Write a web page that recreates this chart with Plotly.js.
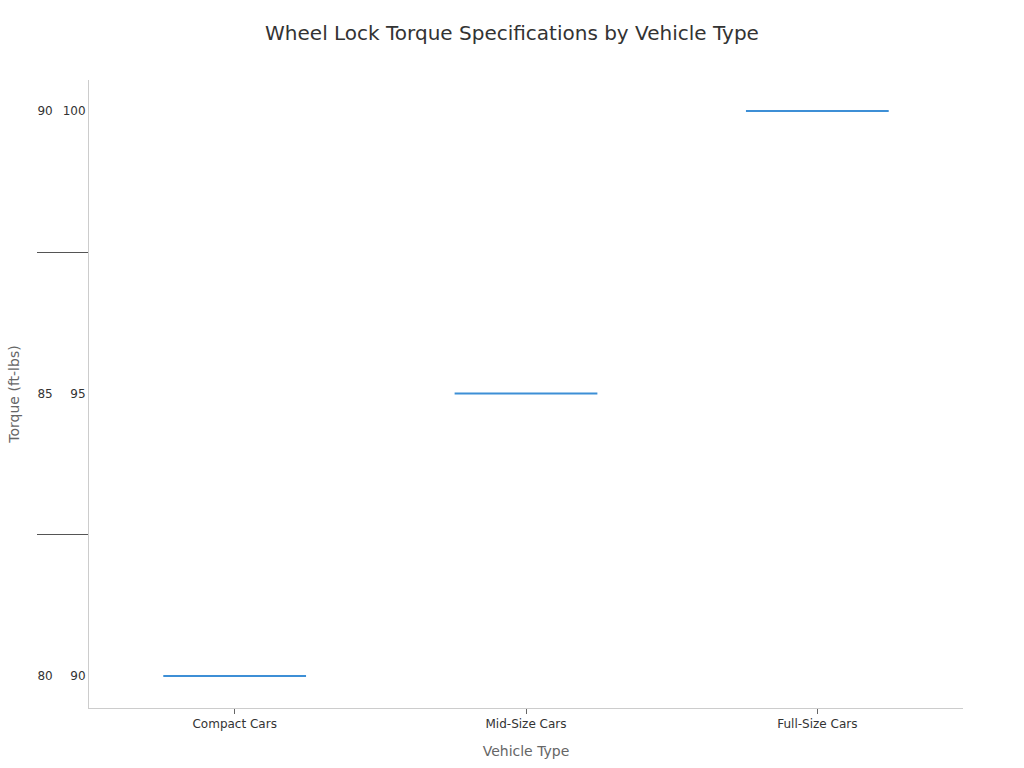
<!DOCTYPE html>
<html>
<head>
<meta charset="utf-8">
<script src="https://cdn.plot.ly/plotly-3.0.1.min.js"></script>
<style>
  html, body { margin: 0; padding: 0; background: #fff; }
  #chart { width: 1024px; height: 768px; }
</style>
</head>
<body>
<div id="chart"></div>
<script>
// vehicle categories and the torque values (two-level labels on the y axis)
var vehicleTypes = ['Compact Cars', 'Mid-Size Cars', 'Full-Size Cars'];
var torqueLow = ['80', '85', '90'];
var torqueHigh = ['90', '95', '100'];

var trace = {
  type: 'box',
  x: vehicleTypes,
  y: [torqueLow, torqueHigh],
  boxpoints: false,
  fillcolor: 'rgba(0,0,0,0)',
  line: {color: '#3d8fd6', width: 2},
  hoverinfo: 'skip',
  showlegend: false
};

var layout = {
  width: 1024,
  height: 768,
  font: {family: 'DejaVu Sans, sans-serif', size: 12, color: '#333'},
  paper_bgcolor: '#fff',
  plot_bgcolor: '#fff',
  margin: {l: 89, r: 61, t: 80, b: 60},
  title: {
    text: 'Wheel Lock Torque Specifications by Vehicle Type',
    font: {size: 20, color: '#333'},
    x: 0.5,
    y: 1 - 33 / 768,
    yanchor: 'middle'
  },
  xaxis: {
    title: {text: 'Vehicle Type', font: {size: 14, color: '#666'}, standoff: 15},
    showline: true,
    linecolor: '#ccc',
    showgrid: false,
    zeroline: false,
    ticks: 'outside',
    ticklen: 5,
    tickcolor: '#666'
  },
  yaxis: {
    type: 'multicategory',
    title: {text: 'Torque (ft-lbs)', font: {size: 14, color: '#666'}, standoff: 14},
    showline: true,
    linecolor: '#ccc',
    showgrid: false,
    zeroline: false,
    ticks: '',
    range: [-0.113, 2.11],
    dividercolor: '#555',
    dividerwidth: 1
  }
};

Plotly.newPlot('chart', [trace], layout, {displayModeBar: false});
</script>
</body>
</html>
